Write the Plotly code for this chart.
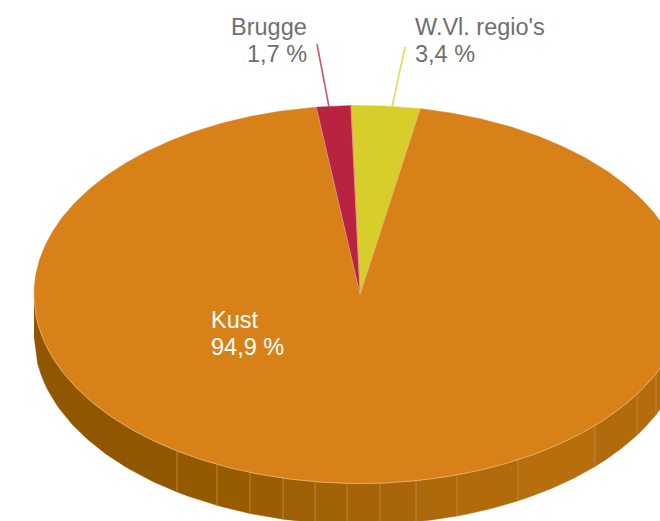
import numpy as np
import plotly.graph_objects as go

# Data
categories = ["W.Vl. regio's", "Kust", "Brugge"]
values = [3.4, 94.9, 1.7]
slice_colors = ["#D7CE2B", "#D98119", "#B92340"]
text_colors = ["#6F6F6F", "#FFFFFF", "#6F6F6F"]
leader_colors = ["#E2DB58", None, "#CC5570"]

# Side-wall facet borders (x position on the front rim) and their shades
facet_x = [34, 177, 217, 250, 283, 315, 347, 380, 416, 457, 518, 595, 637, 656, 686]
facet_colors = ["#915700", "#955900", "#975B02", "#9A5D03", "#9E5F05", "#A26206", "#A66407",
                "#A96608", "#AD6809", "#B16B0B", "#B76F0E", "#B06B0C", "#B36D0D", "#B36D0D"]

# Geometry of the tilted disc, in axis units
CX, CY, RX, RY, DEPTH = 360.0, 294.5, 326.0, 189.0, 41.0
START_DEG = -1.6


def ell(theta):
    """theta clockwise from 12 o'clock, degrees"""
    t = np.radians(theta)
    return CX + RX * np.sin(t), CY - RY * np.cos(t)


fig = go.Figure()


def poly(x, y, color, line=None, width=0):
    fig.add_trace(go.Scatter(x=x, y=y, mode="lines", fill="toself", fillcolor=color,
                             line=dict(color=line or color, width=width),
                             hoverinfo="skip", showlegend=False))


# Side wall facets
for i, col in enumerate(facet_colors):
    x0, x1 = facet_x[i], facet_x[i + 1]
    xs = np.linspace(x0, x1, 40)
    ys = CY + RY * np.sqrt(np.clip(1 - ((xs - CX) / RX) ** 2, 0, 1))
    poly(list(xs) + list(xs[::-1]), list(ys) + list(ys[::-1] + DEPTH), col, col, 0.5)
    if i > 0:
        fig.add_trace(go.Scatter(x=[x0, x0], y=[ys[0], ys[0] + DEPTH], mode="lines",
                                 line=dict(color="#BD8638", width=1), hoverinfo="skip", showlegend=False))

# Top slices
cum = START_DEG
bounds = []
for v, col in zip(values, slice_colors):
    span = v / sum(values) * 360
    th = np.linspace(cum, cum + span, max(int(span * 2), 12))
    ex, ey = ell(th)
    poly([CX] + list(ex) + [CX], [CY] + list(ey) + [CY], col, col, 0.5)
    bounds.append(cum)
    cum += span

# Thin light seams between slices
for b in bounds:
    ex, ey = ell(b)
    fig.add_trace(go.Scatter(x=[CX, float(ex)], y=[CY, float(ey)], mode="lines",
                             line=dict(color="#E9CFA0", width=0.6), hoverinfo="skip", showlegend=False))

# Light rim along the front edge
fx = np.linspace(34, 686, 300)
fy = CY + RY * np.sqrt(np.clip(1 - ((fx - CX) / RX) ** 2, 0, 1))
fig.add_trace(go.Scatter(x=fx, y=fy, mode="lines", line=dict(color="#E6BD85", width=0.7),
                         hoverinfo="skip", showlegend=False))

# Leader lines: (bottom x, bottom y, top x, top y)
leaders = {0: (392, 107, 405, 47), 2: (329, 107, 317, 44)}
for i, (bx, by, tx, ty) in leaders.items():
    fig.add_trace(go.Scatter(x=[bx, tx], y=[by, ty], mode="lines",
                             line=dict(color=leader_colors[i], width=1.6),
                             hoverinfo="skip", showlegend=False))

FONT = "Liberation Sans"
def label(i, x, y1, y2, anchor, size):
    pct = f"{values[i]:.1f}".replace(".", ",") + " %"
    for txt, y in ((categories[i], y1), (pct, y2)):
        fig.add_annotation(x=x, y=y, text=txt, showarrow=False, xanchor=anchor, yanchor="middle",
                           font=dict(family=FONT, size=size, color=text_colors[i]))


label(2, 309, 27, 54, "right", 23.5)
label(0, 413, 27, 54, "left", 23.5)
label(1, 209, 320, 347, "left", 23.5)

fig.update_layout(width=660, height=521, margin=dict(l=0, r=0, t=0, b=0),
                  paper_bgcolor="white", plot_bgcolor="white", showlegend=False,
                  xaxis=dict(range=[0, 660], visible=False, fixedrange=True),
                  yaxis=dict(range=[521, 0], visible=False, fixedrange=True))
fig.write_html("out.html", config={"displayModeBar": False},
               post_script="document.body.style.margin='0';")
